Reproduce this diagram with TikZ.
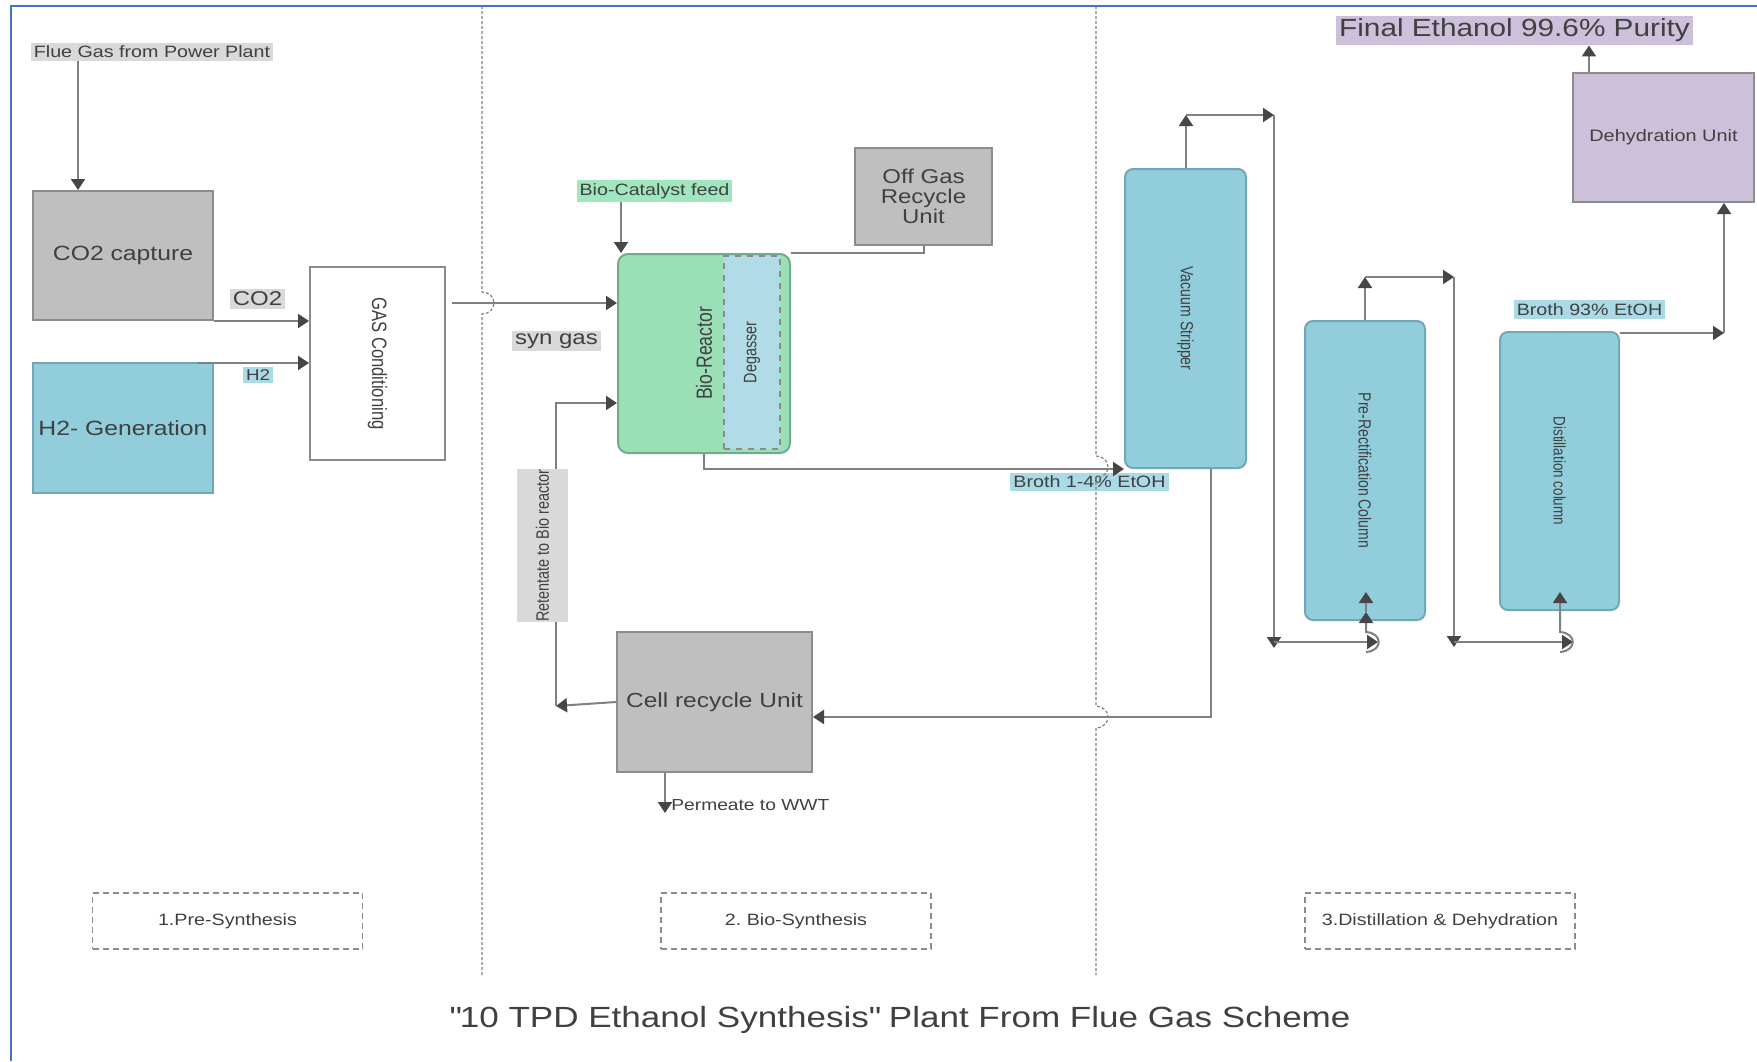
\documentclass[tikz,border=0pt]{standalone}
\usepackage{fontspec}
\setmainfont{Liberation Sans}[FakeStretch=1.2]
\newfontfamily\rotfont{Liberation Sans}[FakeStretch=0.8]
\usetikzlibrary{arrows.meta}

\definecolor{boxgray}{RGB}{191,191,191}
\definecolor{edgegray}{RGB}{140,140,140}
\definecolor{colblue}{RGB}{146,205,220}
\definecolor{coledge}{RGB}{112,168,184}
\definecolor{reactgreen}{RGB}{155,223,183}
\definecolor{reactedge}{RGB}{115,170,138}
\definecolor{degasblue}{RGB}{178,219,232}
\definecolor{dehydpurple}{RGB}{204,192,218}
\definecolor{lblgray}{RGB}{217,217,217}
\definecolor{lblgreen}{RGB}{160,230,190}
\definecolor{lblblue}{RGB}{170,218,230}
\definecolor{linegray}{RGB}{128,128,128}
\definecolor{tipgray}{RGB}{70,70,70}
\definecolor{txtgray}{RGB}{64,64,64}
\definecolor{frameblue}{RGB}{68,114,196}

\begin{document}
\begin{tikzpicture}[x=0.5pt,y=-0.5pt,
  unit/.style={draw=edgegray,line width=1pt,fill=boxgray,text=txtgray,inner sep=0pt,align=center},
  column/.style={draw=coledge,line width=1pt,fill=colblue,rounded corners=4pt,text=txtgray,inner sep=0pt},
  tag/.style={inner sep=1.5pt,text=txtgray},
  arr/.style={draw=linegray,line width=1pt,-{Triangle[length=5.5pt,width=7pt,color=tipgray]}},
  flow/.style={draw=linegray,line width=1pt},
  phase/.style={draw=edgegray,densely dashed,line width=0.6pt,minimum width=135pt,minimum height=28pt,text=txtgray,font=\fontsize{8.2pt}{10pt}\selectfont},
  divider/.style={draw=linegray,line width=0.6pt,dash pattern=on 1.5pt off 1pt}]
\useasboundingbox (0,0) rectangle (1757,1061);

%Frame
\draw[frameblue,line width=1pt] (11,1061) -- (11,6) -- (1757,6);

% Units
\node[unit,minimum width=90pt,minimum height=64.5pt,font=\fontsize{10.3pt}{12pt}\selectfont] (co2cap) at (123,255.5) {CO2 capture};
\node[unit,fill=colblue,draw=coledge,minimum width=90pt,minimum height=65pt,font=\fontsize{10.3pt}{12pt}\selectfont] (h2gen) at (123,428) {H2- Generation};
\node[unit,fill=white,minimum width=67.5pt,minimum height=96.5pt] (gascond) at (377.5,363.5) {\rotatebox{-90}{\rotfont\fontsize{10.4pt}{12pt}\selectfont GAS Conditioning}};
\node[unit,fill=reactgreen,draw=reactedge,rounded corners=5pt,minimum width=86pt,minimum height=99.5pt] (bioreactor) at (704,353.5) {\rotatebox{90}{\rotfont\fontsize{11pt}{13pt}\selectfont Bio-Reactor}};
\node[draw=edgegray,dashed,line width=0.6pt,fill=degasblue,minimum width=28pt,minimum height=96.5pt,inner sep=0pt,text=txtgray] (degasser) at (752,352.5) {\rotatebox{90}{\rotfont\fontsize{9pt}{11pt}\selectfont Degasser}};
\node[unit,minimum width=68.5pt,minimum height=48.5pt,font=\fontsize{10pt}{10pt}\selectfont] (offgas) at (923.5,196.5) {Off Gas\\Recycle\\Unit};
\node[unit,minimum width=97.5pt,minimum height=70pt,font=\fontsize{10.2pt}{12pt}\selectfont] (cellrec) at (714.5,702) {Cell recycle Unit};
\node[column,minimum width=60.5pt,minimum height=149.5pt] (vacstrip) at (1185.5,318.5) {\rotatebox{-90}{\rotfont\fontsize{8.8pt}{10pt}\selectfont Vacuum Stripper}};
\node[column,minimum width=60pt,minimum height=149.5pt] (prerect) at (1365,470.5) {\rotatebox{-90}{\rotfont\fontsize{8.8pt}{10pt}\selectfont Pre-Rectification Column}};
\node[column,minimum width=59.5pt,minimum height=139pt] (distcol) at (1559.5,471) {\rotatebox{-90}{\rotfont\fontsize{8.4pt}{10pt}\selectfont Distillation column}};
\node[unit,fill=dehydpurple,minimum width=90.5pt,minimum height=64.5pt,font=\fontsize{8.3pt}{10pt}\selectfont] (dehyd) at (1663.5,137.5) {Dehydration Unit};

% Text Node
\node[tag,fill=lblgray,font=\fontsize{8.2pt}{10pt}\selectfont] (flue) at (152,52) {Flue Gas from Power Plant};
\node[tag,fill=lblgray,font=\fontsize{10pt}{12pt}\selectfont] (co2lbl) at (257.5,299) {CO2};
\node[tag,fill=lblblue,font=\fontsize{7.8pt}{9pt}\selectfont] (h2lbl) at (258,375) {H2};
\node[tag,fill=lblgray,font=\fontsize{10pt}{12pt}\selectfont] (syngas) at (556.5,341) {syn gas};
\node[tag,fill=lblgreen,font=\fontsize{8.2pt}{10pt}\selectfont] (biocat) at (654.5,191) {Bio-Catalyst feed};
\node[tag,fill=lblblue,font=\fontsize{8.2pt}{10pt}\selectfont] (broth14) at (1089.5,482) {Broth 1-4\% EtOH};
\node[tag,fill=lblblue,font=\fontsize{8.2pt}{10pt}\selectfont] (broth93) at (1589.5,309.5) {Broth 93\% EtOH};
\node[tag,fill=dehydpurple,font=\fontsize{12.4pt}{14pt}\selectfont] (final) at (1514.5,30.5) {Final Ethanol 99.6\% Purity};
\node[anchor=west,inner sep=0pt,text=txtgray,font=\fontsize{8pt}{10pt}\selectfont] (permeate) at (671,805) {Permeate to WWT};

% Coordinates
\coordinate (fl) at (78,0);
\coordinate (h2s) at (198,363);
\coordinate (sg) at (452,303);
\coordinate (bc) at (621,0);
\coordinate (vb) at (1211,717);
\coordinate (rt) at (556,706);
\coordinate (rin) at (0,403);
\coordinate (pm) at (665,813);
\coordinate (v1) at (1186,115);
\coordinate (v2) at (1274,115);
\coordinate (v3) at (1274,648);
\coordinate (v4) at (1274,642);
\coordinate (v5) at (1378,642);
\coordinate (r0) at (1366,652);
\coordinate (r1) at (1366,612);
\coordinate (r2) at (1366,592);
\coordinate (p1) at (1365,277);
\coordinate (p2) at (1454,277);
\coordinate (p3) at (1454,647);
\coordinate (p4) at (1454,642);
\coordinate (p5) at (1573,642);
\coordinate (d0) at (1560,652);
\coordinate (d1) at (1560,592);
\coordinate (e1) at (1724,333);
\coordinate (fx) at (1589,0);

%Straight Lines
\draw[arr] (flue.south -| fl) -- (co2cap.north -| fl);
\draw[arr] (co2cap.south east) -- (co2cap.south east -| gascond.west);
\draw[arr] (h2s) -- (h2s -| gascond.west);
\draw[arr] (sg) -- (sg -| bioreactor.west);
\draw[arr] (biocat.south -| bc) -- (bioreactor.north -| bc);
\draw[flow] (bioreactor.north east) -| (offgas.south);
\draw[arr] (bioreactor.south) |- (vacstrip.south west);
\draw[arr] (vacstrip.south -| vb) -- (vb) -- (vb -| cellrec.east);
\draw[arr] (cellrec.west) -- (rt);
\draw[arr] (rt) |- (bioreactor.west |- rin);
\draw[arr] (cellrec.south -| pm) -- (pm);
\draw[arr] (vacstrip.north -| v1) -- (v1);
\draw[arr] (v1) -- (v2);
\draw[arr] (v2) -- (v3);
\draw[arr] (v4) -- (v5);
\draw[arr] (r0) .. controls (1383,651) and (1383,633) .. (1366,632) -- (r1);
\draw[arr] (r1) -- (r2);
\draw[arr] (prerect.north -| p1) -- (p1);
\draw[arr] (p1) -- (p2);
\draw[arr] (p2) -- (p3);
\draw[arr] (p4) -- (p5);
\draw[arr] (d0) .. controls (1577,651) and (1577,633) .. (1560,632) -- (d1);
\draw[arr] (distcol.north east |- e1) -- (e1);
\draw[arr] (e1) -- (dehyd.south -| e1);
\draw[arr] (dehyd.north -| fx) -- (final.south -| fx);

% Text Node
\node[tag,fill=lblgray,minimum width=25.5pt,minimum height=74.5pt,inner sep=0pt] (retentate) at (542.5,545.5) {\rotatebox{90}{\rotfont\fontsize{9pt}{11pt}\selectfont Retentate to Bio reactor}};

% Phases
\node[phase] (pre) at (227.5,921) {1.Pre-Synthesis};
\node[phase] (bio) at (796,921) {2.\ Bio-Synthesis};
\node[phase] (dist) at (1440,921) {3.Distillation \& Dehydration};
\node[text=txtgray,font=\fontsize{14.6pt}{17pt}\selectfont] (title) at (900,1020) {\textquotedbl 10 TPD Ethanol Synthesis\textquotedbl{} Plant From Flue Gas Scheme};

%Dividers
\draw[divider] (482,6) -- (482,292) .. controls (498,293) and (498,313) .. (482,314) -- (482,975);
\draw[divider] (1096,6) -- (1096,456) .. controls (1112,457) and (1112,477) .. (1096,478) -- (1096,706) .. controls (1112,707) and (1112,727) .. (1096,728) -- (1096,975);

\end{tikzpicture}
\end{document}
